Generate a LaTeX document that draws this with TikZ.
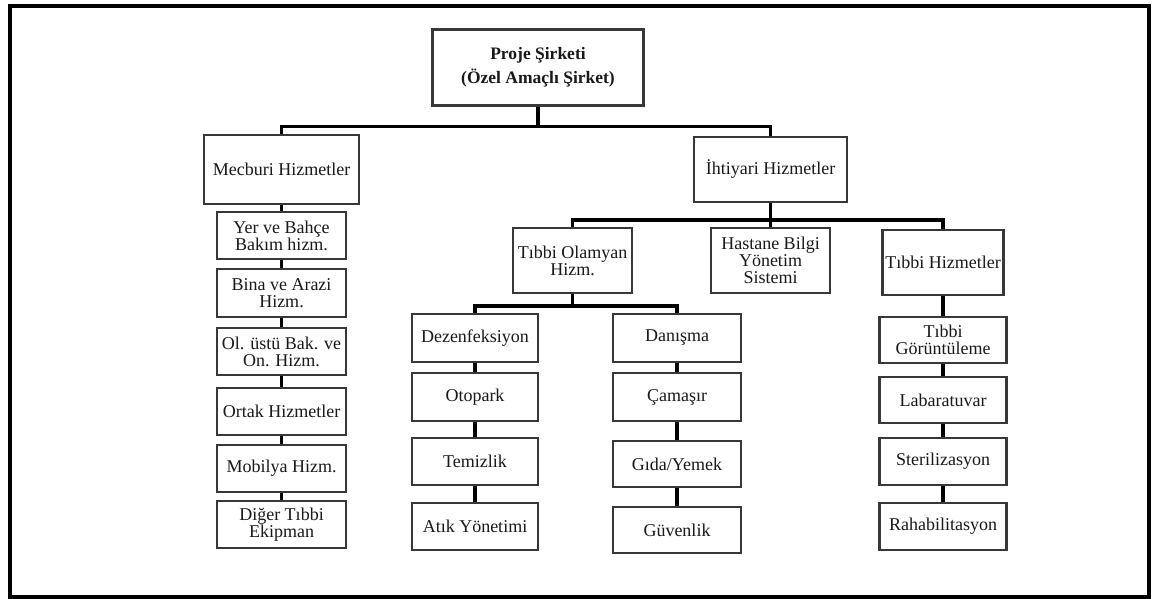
\documentclass[tikz,border=0pt]{standalone}
\usepackage{fontspec}
\setmainfont{Liberation Serif}
\begin{document}
\begin{tikzpicture}[x=1pt,y=-1pt,
  box/.style={draw=black!78, line width=2.2pt, fill=white, align=center, inner sep=0pt,
    text=black!90, font=\fontsize{18}{17}\selectfont},
  rootbox/.style={box, font=\fontsize{17.5}{24}\selectfont\bfseries},
  conn/.style={line width=3.8pt, black},
  frame/.style={line width=3.5pt, black}]
\useasboundingbox (0,0) rectangle (1152,599);
\draw[frame] (10,6) rectangle (1149,597);

% root
\node[rootbox, minimum width=211pt, minimum height=76pt] (root) at (538,67.5) {Proje Şirketi\\(Özel Amaçlı Şirket)};

% level 1
\node[box, minimum width=155pt, minimum height=69pt] (mecb) at (281.5,169.5) {Mecburi Hizmetler};
\node[box, minimum width=153pt, minimum height=65pt] (ihti) at (770.5,169.5) {İhtiyari Hizmetler};

% Mecburi column
\node[box, minimum width=129pt, minimum height=47pt] (yer) at (281.5,235.5) {Yer ve Bahçe\\Bakım hizm.};
\node[box, minimum width=129pt, minimum height=48pt] (bina) at (281.5,293) {Bina ve Arazi\\Hizm.};
\node[box, minimum width=129pt, minimum height=47pt] (olu) at (281.5,351.5) {Ol. üstü Bak. ve\\On. Hizm.};
\node[box, minimum width=129pt, minimum height=47pt] (ortak) at (281.5,411.5) {Ortak Hizmetler};
\node[box, minimum width=129pt, minimum height=47pt] (mob) at (281.5,468.5) {Mobilya Hizm.};
\node[box, minimum width=129pt, minimum height=47pt] (diger) at (281.5,524.5) {Diğer Tıbbi\\Ekipman};

% Ihtiyari level 2
\node[box, minimum width=119pt, minimum height=65pt] (tol) at (572.5,260.5) {Tıbbi Olamyan\\Hizm.};
\node[box, minimum width=119pt, minimum height=65pt] (hast) at (770.5,260.5) {Hastane Bilgi\\Yönetim\\Sistemi};
\node[box, minimum width=121pt, minimum height=65pt] (tibh) at (943,262.5) {Tıbbi Hizmetler};

% Tibbi Olamyan children
\node[box, minimum width=126pt, minimum height=48pt] (dez) at (475,338) {Dezenfeksiyon};
\node[box, minimum width=126pt, minimum height=48pt] (oto) at (475,397) {Otopark};
\node[box, minimum width=126pt, minimum height=47pt] (tem) at (475,461.5) {Temizlik};
\node[box, minimum width=126pt, minimum height=47pt] (atik) at (475,526.5) {Atık Yönetimi};

\node[box, minimum width=128pt, minimum height=48pt] (dan) at (677,338) {Danışma};
\node[box, minimum width=128pt, minimum height=48pt] (cam) at (677,397) {Çamaşır};
\node[box, minimum width=128pt, minimum height=46pt] (gida) at (677,464) {Gıda/Yemek};
\node[box, minimum width=128pt, minimum height=46pt] (guv) at (677,530) {Güvenlik};

% Tibbi Hizmetler column
\node[box, minimum width=127pt, minimum height=46pt] (gor) at (943,340) {Tıbbi\\Görüntüleme};
\node[box, minimum width=127pt, minimum height=46pt] (lab) at (943,400) {Labaratuvar};
\node[box, minimum width=127pt, minimum height=47pt] (ster) at (943,461.5) {Sterilizasyon};
\node[box, minimum width=127pt, minimum height=47pt] (reh) at (943,526.5) {Rahabilitasyon};

% connectors
\draw[conn] (root.south) -- ++(0,20) -| (mecb.north);
\draw[conn] (root.south) -- ++(0,20) -| (ihti.north);

\draw[conn] (mecb.south) -- (yer.north);
\draw[conn] (yer.south) -- (bina.north);
\draw[conn] (bina.south) -- (olu.north);
\draw[conn] (olu.south) -- (ortak.north);
\draw[conn] (ortak.south) -- (mob.north);
\draw[conn] (mob.south) -- (diger.north);

\draw[conn] (ihti.south) -- ++(0,17) -| (tol.north);
\draw[conn] (ihti.south) -- (hast.north);
\draw[conn] (ihti.south) -- ++(0,17) -| (tibh.north);

\draw[conn] (tol.south) -- ++(0,12) -| (dez.north);
\draw[conn] (tol.south) -- ++(0,12) -| (dan.north);

\draw[conn] (dez.south) -- (oto.north);
\draw[conn] (oto.south) -- (tem.north);
\draw[conn] (tem.south) -- (atik.north);
\draw[conn] (dan.south) -- (cam.north);
\draw[conn] (cam.south) -- (gida.north);
\draw[conn] (gida.south) -- (guv.north);

\draw[conn] (tibh.south) -- (gor.north);
\draw[conn] (gor.south) -- (lab.north);
\draw[conn] (lab.south) -- (ster.north);
\draw[conn] (ster.south) -- (reh.north);
\end{tikzpicture}
\end{document}
